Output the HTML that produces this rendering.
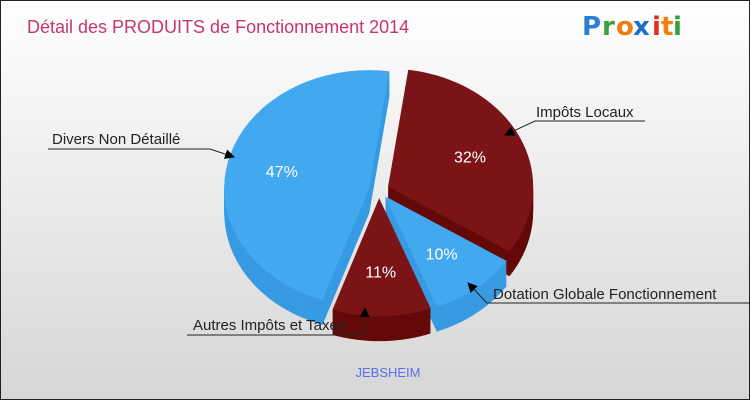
<!DOCTYPE html>
<html><head><meta charset="utf-8">
<style>
html,body{margin:0;padding:0;}
body{width:750px;height:400px;overflow:hidden;}
svg{display:block;font-family:"Liberation Sans",sans-serif;}
</style></head>
<body>
<svg id="chart" width="750" height="400" viewBox="0 0 750 400" xmlns="http://www.w3.org/2000/svg">
<defs>
<linearGradient id="bg" x1="0" y1="0" x2="0" y2="1">
<stop offset="0" stop-color="#ffffff"/><stop offset="1" stop-color="#d6d6d6"/>
</linearGradient>
<marker id="arr" markerWidth="10" markerHeight="10" refX="9" refY="5" orient="auto" markerUnits="userSpaceOnUse">
<path d="M0,0 L10,5 L0,10 z" fill="#000"/>
</marker>
</defs>
<rect x="0.5" y="0.5" width="749" height="399" fill="url(#bg)" stroke="#222" stroke-width="1"/>
<text x="27" y="33" font-size="18" fill="#c8356e">Détail des PRODUITS de Fonctionnement 2014</text>
<g font-size="26" font-weight="bold" font-family="'DejaVu Sans',sans-serif">
<text x="582" y="35" fill="#2a7fd4">P</text><text x="602" y="35" fill="#3aa040">r</text><text x="616" y="35" fill="#f07c10">o</text><text x="633" y="35" fill="#1a70c8">x</text><text x="652" y="35" fill="#e03020">i</text><text x="661" y="35" fill="#f08010">t</text><text x="673" y="35" fill="#30a040">i</text>
</g>
<g id="slices"></g>
<g id="labels"></g>
<text x="388" y="377" font-size="13" fill="#5a6ff0" text-anchor="middle">JEBSHEIM</text>
</svg>
<script>
const categories = ["Impôts Locaux","Dotation Globale Fonctionnement","Autres Impôts et Taxes","Divers Non Détaillé"];
const values = [32,10,11,47];
const pctLabels = ["32%","10%","11%","47%"];

const NS="http://www.w3.org/2000/svg";
const cx=379, cy=190, rx=145, ry=118, depth=25, explode=10, startDeg=8;
const topCol=["#7b1416","#42a9f0","#7b1416","#42a9f0"];
const sideCol=["#640909","#379be2","#640909","#379be2"];
const total=values.reduce((a,b)=>a+b,0);
function pt(c,a,r){const t=a*Math.PI/180;return [c[0]+rx*r*Math.sin(t), c[1]-ry*r*Math.cos(t)];}
function slicePath(c,a0,a1,dy){
  let d=`M${c[0]},${c[1]+dy}`;
  const n=40;
  for(let i=0;i<=n;i++){const p=pt(c,a0+(a1-a0)*i/n,1);d+=` L${p[0].toFixed(2)},${(p[1]+dy).toFixed(2)}`;}
  return d+" Z";
}
const sl=[];let acc=startDeg;
values.forEach((v,i)=>{const a0=acc,a1=acc+v/total*360;acc=a1;const m=(a0+a1)/2;
  const t=m*Math.PI/180;const c=[cx+explode*Math.sin(t), cy-explode*(ry/rx)*Math.cos(t)];
  sl.push({i,a0,a1,m,c,depthKey:-Math.cos(t)});});
const order=sl.slice().sort((a,b)=>a.depthKey-b.depthKey);
const g=document.getElementById('slices');
order.forEach(s=>{
  const grp=document.createElementNS(NS,'g');
  
  
  for(let dy=depth;dy>0;dy-=1){const p=document.createElementNS(NS,'path');p.setAttribute('d',slicePath(s.c,s.a0,s.a1,dy));p.setAttribute('fill',sideCol[s.i]);grp.appendChild(p);}
  const top=document.createElementNS(NS,'path');top.setAttribute('d',slicePath(s.c,s.a0,s.a1,0));top.setAttribute('fill',topCol[s.i]);
  
  
  grp.appendChild(top);
  const lp=pt(s.c,s.m,0.62);
  const tx=document.createElementNS(NS,'text');
  
  
  tx.setAttribute('x',lp[0].toFixed(1));tx.setAttribute('y',(lp[1]+6).toFixed(1));tx.setAttribute('fill','#fff');tx.setAttribute('font-size','16');tx.setAttribute('text-anchor','middle');tx.textContent=pctLabels[s.i];
  grp.appendChild(tx);
  g.appendChild(grp);
});
// callout labels
const L=document.getElementById('labels');
const callouts=[
 {t:categories[0],tx:536,ty:117,line:"M645,121 L535,121 L505,135"},
 {t:categories[1],tx:493,ty:299,line:"M750,303 L487,303 L468,283"},
 {t:categories[2],tx:193,ty:330,line:"M187,335 L364,335 L365,308"},
 {t:categories[3],tx:52,ty:144,line:"M48,149 L210,149 L234,157"}
];
callouts.forEach(c=>{
  const p=document.createElementNS(NS,'path');
  
  
  p.setAttribute('d',c.line);p.setAttribute('fill','none');p.setAttribute('stroke','#222');p.setAttribute('stroke-width','1');p.setAttribute('marker-end','url(#arr)');
  L.appendChild(p);
  const t=document.createElementNS(NS,'text');
  
  
  t.setAttribute('x',c.tx);t.setAttribute('y',c.ty);t.setAttribute('font-size','15');t.setAttribute('fill','#222');t.textContent=c.t;
  L.appendChild(t);
});
</script>
</body></html>
